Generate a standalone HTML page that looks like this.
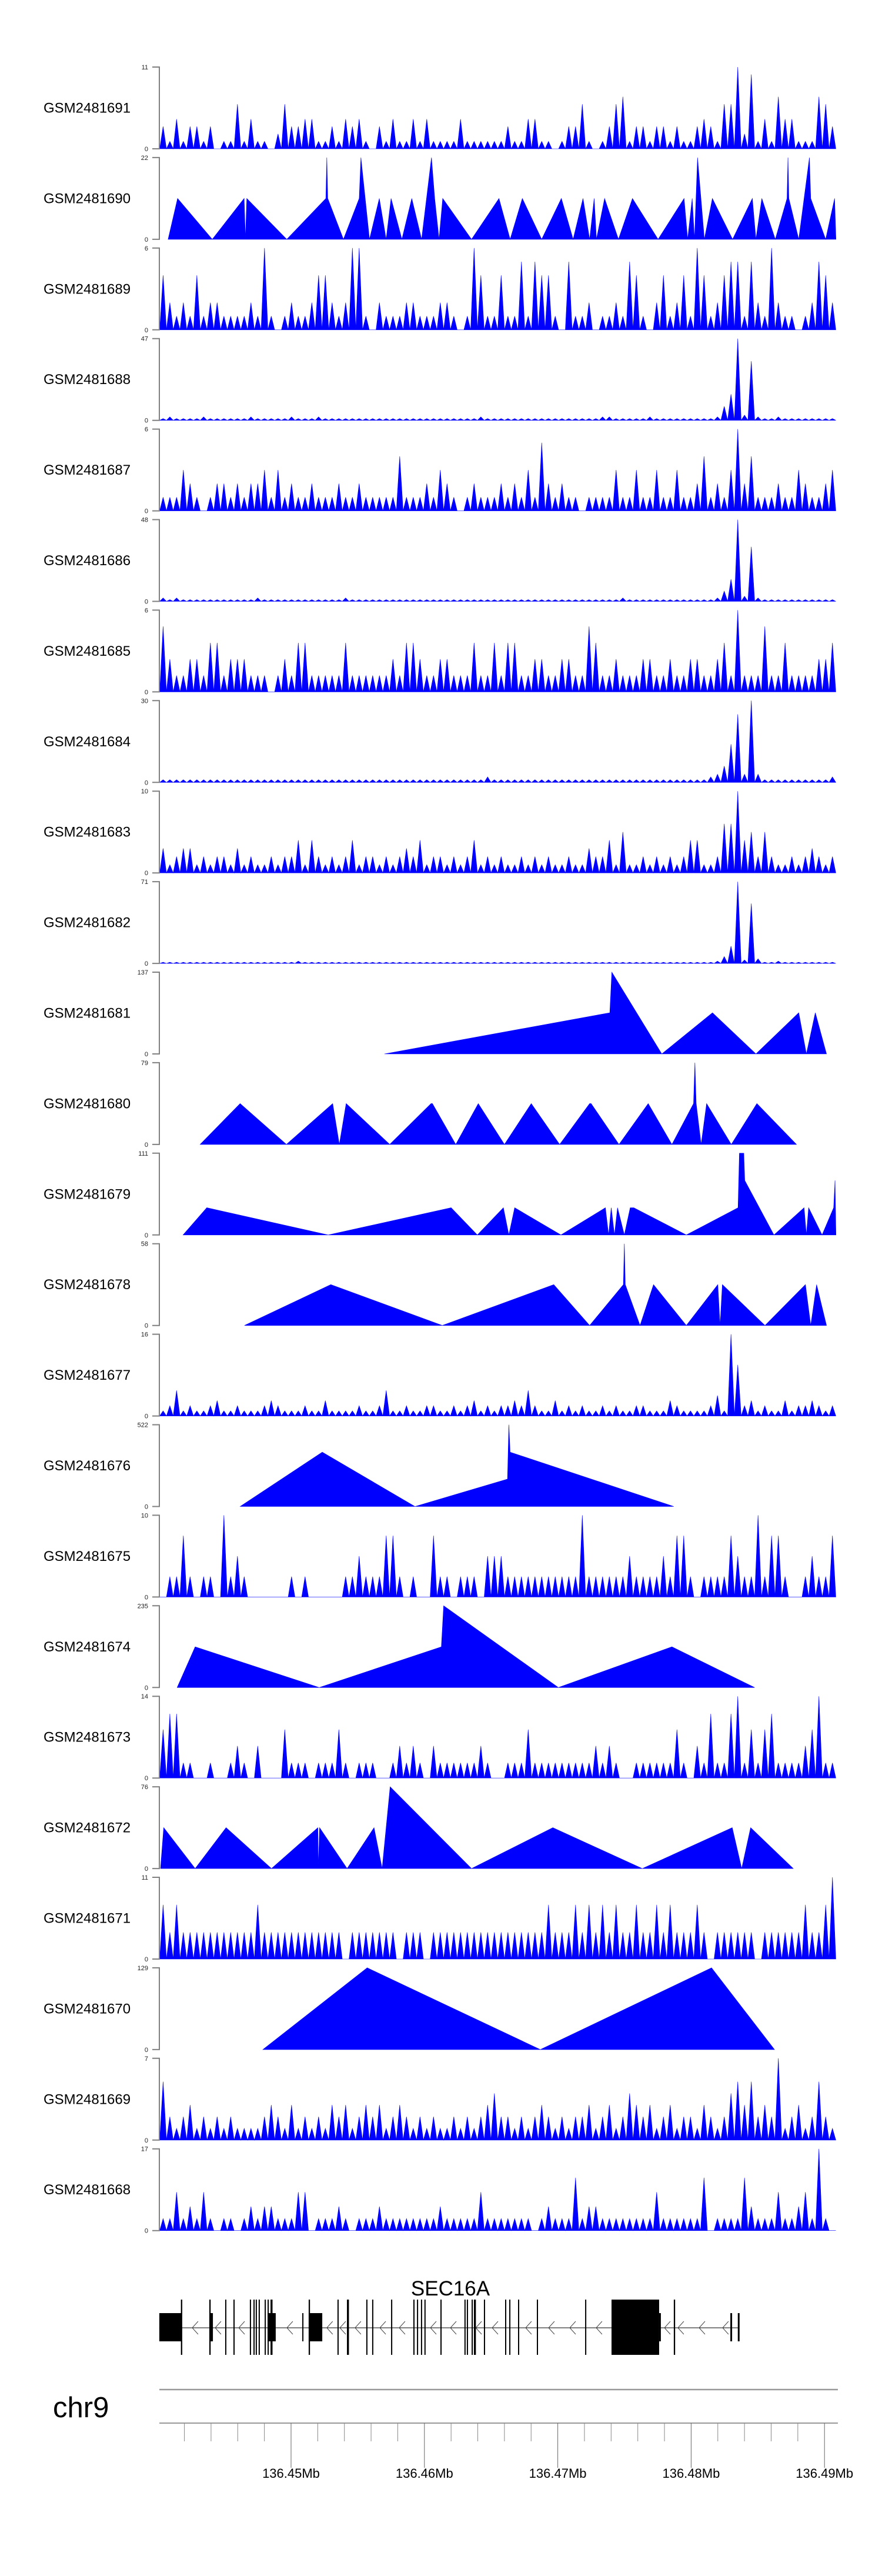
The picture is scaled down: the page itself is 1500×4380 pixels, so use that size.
<!DOCTYPE html>
<html><head><meta charset="utf-8"><title>SEC16A coverage tracks</title>
<style>
html,body{margin:0;padding:0;background:#fff;}
svg{display:block;font-family:"Liberation Sans",Arial,sans-serif;}
</style></head>
<body>
<svg id="chart" width="1500" height="4380" viewBox="0 0 1500 4380" xmlns="http://www.w3.org/2000/svg">
<rect width="1500" height="4380" fill="#fff"/>
<g id="tracks"></g>
<g id="gene"></g>
<g id="axis"></g>
</svg>
<script>
// ---------- data (kb offsets from 136.44 Mb) ----------
const sampleNames = ["GSM2481691","GSM2481690","GSM2481689","GSM2481688","GSM2481687","GSM2481686","GSM2481685","GSM2481684","GSM2481683","GSM2481682","GSM2481681","GSM2481680","GSM2481679","GSM2481678","GSM2481677","GSM2481676","GSM2481675","GSM2481674","GSM2481673","GSM2481672","GSM2481671","GSM2481670","GSM2481669","GSM2481668"];
const sampleMax = [11,22,6,47,6,48,6,30,10,71,137,79,111,58,16,522,10,235,14,76,11,129,7,17];

// dense binned coverage (100 bins)
const cov1691 = [3,1,4,1,3,3,1,3,0,1,1,6,1,4,1,1,0,2,6,3,3,4,4,1,1,3,1,4,3,4,1,0,3,1,4,1,1,4,1,4,1,1,1,1,4,1,1,1,1,1,1,3,1,1,4,4,1,1,0,1,3,3,6,1,0,1,3,6,7,1,3,3,1,3,3,1,3,1,1,3,4,3,1,6,6,11,2,10,1,4,1,7,4,4,1,1,1,7,6,3];
const cov1689 = [4,2,1,2,1,4,1,2,2,1,1,1,1,2,1,6,1,0,1,2,1,1,2,4,4,2,1,2,6,6,1,0,2,1,1,1,2,2,1,1,1,2,2,1,0,1,6,4,1,1,4,1,1,5,1,5,4,4,1,0,5,1,1,2,0,1,1,2,1,5,4,1,0,2,4,1,2,4,1,6,4,1,2,4,5,5,1,5,2,1,6,2,1,1,0,1,2,5,4,2];
const cov1688 = [1,2,1,1,1,1,2,1,1,1,1,1,1,2,1,1,1,1,1,2,1,1,1,2,1,1,1,1,1,1,1,1,1,1,1,1,1,1,1,1,1,1,1,1,1,1,1,2,1,1,1,1,1,1,1,1,1,1,1,1,1,1,1,1,1,2,2,1,1,1,1,1,2,1,1,1,1,1,1,1,1,1,2,8,15,47,3,34,2,1,1,2,1,1,1,1,1,1,1,1];
const cov1687 = [1,1,1,3,2,1,0,1,2,2,1,2,1,2,2,3,1,3,1,2,1,1,2,1,1,1,2,1,1,2,1,1,1,1,1,4,1,1,1,2,1,3,2,1,0,1,2,1,1,1,2,1,2,1,3,1,5,2,1,2,1,1,0,1,1,1,1,3,1,1,3,1,1,3,1,1,3,1,1,2,4,1,2,1,3,6,2,4,1,1,1,2,1,1,3,2,1,1,2,3];
const cov1686 = [2,1,2,1,1,1,1,1,1,1,1,1,1,1,2,1,1,1,1,1,1,1,1,1,1,1,1,2,1,1,1,1,1,1,1,1,1,1,1,1,1,1,1,1,1,1,1,1,1,1,1,1,1,1,1,1,1,1,1,1,1,1,1,1,1,1,1,1,2,1,1,1,1,1,1,1,1,1,1,1,1,1,2,6,13,48,3,32,2,1,1,1,1,1,1,1,1,1,1,1];
const cov1685 = [4.8,2.4,1.2,1.2,2.4,2.4,1.2,3.6,3.6,1.2,2.4,2.4,2.4,1.2,1.2,1.2,0,1.2,2.4,1.2,3.6,3.6,1.2,1.2,1.2,1.2,1.2,3.6,1.2,1.2,1.2,1.2,1.2,1.2,2.4,1.2,3.6,3.6,2.4,1.2,1.2,2.4,2.4,1.2,1.2,1.2,3.6,1.2,1.2,3.6,1.2,3.6,3.6,1.2,1.2,2.4,2.4,1.2,1.2,2.4,2.4,1.2,1.2,4.8,3.6,1.2,1.2,2.4,1.2,1.2,1.2,2.4,2.4,1.2,1.2,2.4,1.2,1.2,2.4,2.4,1.2,1.2,2.4,3.6,1.2,6,1.2,1.2,1.2,4.8,1.2,1.2,3.6,1.2,1.2,1.2,1.2,2.4,2.4,3.6];
const cov1684 = [1,1,1,1,1,1,1,1,1,1,1,1,1,1,1,1,1,1,1,1,1,1,1,1,1,1,1,1,1,1,1,1,1,1,1,1,1,1,1,1,1,1,1,1,1,1,1,1,2,1,1,1,1,1,1,1,1,1,1,1,1,1,1,1,1,1,1,1,1,1,1,1,1,1,1,1,1,1,1,1,1,2,3,6,14,25,3,30,3,1,1,1,1,1,1,1,1,1,1,2];
const cov1683 = [3,1,2,3,3,1,2,1,2,2,1,3,1,2,1,1,2,1,2,2,4,1,4,2,1,2,1,2,4,1,2,2,1,2,1,2,3,2,4,1,2,2,1,2,1,2,4,1,2,1,2,1,1,2,1,2,1,2,1,1,2,1,1,3,2,2,4,1,5,1,1,2,1,2,1,2,1,2,4,4,1,1,2,6,6,10,4,5,2,5,2,1,1,2,1,2,3,2,1,2];
const cov1682 = [1,1,1,1,1,1,1,1,1,1,1,1,1,1,1,1,1,1,1,1,2,1,1,1,1,1,1,1,1,1,1,1,1,1,1,1,1,1,1,1,1,1,1,1,1,1,1,1,1,1,1,1,1,1,1,1,1,1,1,1,1,1,1,1,1,1,1,1,1,1,1,1,1,1,1,1,1,1,1,1,1,1,2,6,15,71,3,52,4,1,1,2,1,1,1,1,1,1,1,1];
const cov1677 = [1,2,5,1,2,1,1,2,3,1,1,2,1,1,1,2,3,2,1,1,1,2,1,1,3,1,1,1,1,2,1,1,2,5,1,1,2,1,1,2,2,1,1,2,1,2,3,1,2,1,2,2,3,2,5,2,1,1,3,1,2,1,2,1,1,2,1,2,1,1,2,2,1,1,1,3,2,1,1,1,1,2,4,1,16,10,2,3,1,2,1,1,3,1,2,2,3,2,1,2];
const cov1675 = [0,2.5,2.5,7.5,2.5,0,2.5,2.5,0,10,2.5,5,2.5,0,0,0,0,0,0,2.5,0,2.5,0,0,0,0,0,2.5,2.5,5,2.5,2.5,2.5,7.5,7.5,2.5,0,2.5,0,0,7.5,2.5,2.5,0,2.5,2.5,2.5,0,5,5,5,2.5,2.5,2.5,2.5,2.5,2.5,2.5,2.5,2.5,2.5,2.5,10,2.5,2.5,2.5,2.5,2.5,2.5,5,2.5,2.5,2.5,2.5,5,2.5,7.5,7.5,2.5,0,2.5,2.5,2.5,2.5,7.5,5,2.5,2.5,10,2.5,7.5,7.5,2.5,0,0,2.5,5,2.5,2.5,7.5];
const cov1673 = [8.3,11,11,2.6,2.6,0,0,2.6,0,0,2.6,5.5,2.6,0,5.5,0,0,0,8.3,2.6,2.6,2.6,0,2.6,2.6,2.6,8.3,2.6,0,2.6,2.6,2.6,0,0,2.6,5.5,2.6,5.5,2.6,0,5.5,2.6,2.6,2.6,2.6,2.6,2.6,5.5,2.6,0,0,2.6,2.6,2.6,8.3,2.6,2.6,2.6,2.6,2.6,2.6,2.6,2.6,2.6,5.5,2.6,5.5,2.6,0,0,2.6,2.6,2.6,2.6,2.6,2.6,8.3,2.6,0,5.5,2.6,11,2.6,2.6,11,14,2.6,8.3,2.6,8.3,11,2.6,2.6,2.6,2.6,5.5,8.3,14,2.6,2.6];
const cov1671 = [7.3,3.6,7.3,3.6,3.6,3.6,3.6,3.6,3.6,3.6,3.6,3.6,3.6,3.6,7.3,3.6,3.6,3.6,3.6,3.6,3.6,3.6,3.6,3.6,3.6,3.6,3.6,0,3.6,3.6,3.6,3.6,3.6,3.6,3.6,0,3.6,3.6,3.6,0,3.6,3.6,3.6,3.6,3.6,3.6,3.6,3.6,3.6,3.6,3.6,3.6,3.6,3.6,3.6,3.6,3.6,7.3,3.6,3.6,3.6,7.3,3.6,7.3,3.6,7.3,3.6,7.3,3.6,3.6,7.3,3.6,3.6,7.3,3.6,7.3,3.6,3.6,3.6,7.3,3.6,0,3.6,3.6,3.6,3.6,3.6,3.6,0,3.6,3.6,3.6,3.6,3.6,3.6,7.3,3.6,3.6,7.3,11];
const cov1669 = [5,2,1,2,3,1,2,1,2,1,2,1,1,1,1,2,3,2,1,3,1,2,1,2,1,3,2,3,1,2,3,2,3,1,2,3,2,1,2,1,2,1,1,2,1,2,1,2,3,4,2,2,1,2,1,2,3,2,1,2,1,2,2,3,1,2,3,1,2,4,3,2,3,1,2,3,1,2,2,1,3,2,1,2,4,5,3,5,2,3,2,7,1,2,3,1,2,5,2,1];
const cov1668 = [2.5,2.5,8,2.5,5,2.5,8,2.5,0,2.5,2.5,0,2.5,5,2.5,5,5,2.5,2.5,2.5,8,8,0,2.5,2.5,2.5,5,2.5,0,2.5,2.5,2.5,5,2.5,2.5,2.5,2.5,2.5,2.5,2.5,2.5,5,2.5,2.5,2.5,2.5,2.5,8,2.5,2.5,2.5,2.5,2.5,2.5,2.5,0,2.5,5,2.5,2.5,2.5,11,2.5,5,5,2.5,2.5,2.5,2.5,2.5,2.5,2.5,2.5,8,2.5,2.5,2.5,2.5,2.5,2.5,11,0,2.5,2.5,2.5,2.5,11,5,2.5,2.5,2.5,8,2.5,2.5,5,8,2.5,17,2.5,0];

// sparse tracks: positions (kb) and values
const pos1690 = [0.78,1.49,4.09,6.48,6.58,6.68,9.68,12.61,12.68,12.75,13.93,15.11,15.24,15.88,16.62,17.13,17.5,18.31,19.05,19.79,20.53,20.77,21.1,21.37,23.53,25.59,26.43,27.34,28.79,30.27,31.15,31.89,32.39,32.73,32.9,33.51,34.55,35.6,37.52,39.47,39.74,40.08,40.25,40.48,40.99,41.59,43.11,44.59,44.86,45.3,46.31,47.19,47.26,47.33,48.07,48.87,48.97,50.09,50.76,50.86];
const val1690 = [0,11,0,11,0,11,0,11,22,11,0,11,22,0,11,0,11,0,11,0,22,11,0,11,0,11,0,11,0,11,0,11,0,11,0,11,0,11,0,11,0,11,0,22,0,11,0,11,0,11,0,11,22,11,0,22,11,0,11,0];
const pos1681 = [17.0,33.9,34.05,37.8,41.6,44.86,48.07,48.64,49.31,50.15];
const val1681 = [0,69,137,0,69,0,69,0,69,0];
const pos1680 = [3.18,6.18,9.65,13.12,13.62,14.13,17.4,20.5,20.6,22.35,24.04,26.0,28.01,30.14,32.39,32.5,34.59,36.78,38.56,40.18,40.28,40.38,40.75,41.16,43.01,44.93,47.9];
const val1680 = [0,39.5,0,39.5,0,39.5,0,39.5,39.5,0,39.5,0,39.5,0,39.5,39.5,0,39.5,0,39.5,79,39.5,0,39.5,0,39.5,0];
const pos1679 = [1.9,3.68,12.78,22.0,23.97,25.92,26.33,26.77,30.24,33.57,33.81,34.01,34.25,34.48,34.99,35.43,35.7,39.64,43.52,43.62,43.95,44.02,46.21,48.47,48.64,48.81,49.82,50.69,50.79,50.86];
const val1679 = [0,37,0,37,0,37,0,37,0,37,0,37,0,37,0,37,37,0,37,111,111,74,0,37,0,37,0,37,74,0];
const pos1678 = [6.51,12.98,21.34,29.7,32.39,34.92,34.99,35.06,36.17,37.18,39.64,42.0,42.17,42.34,45.54,48.57,48.97,49.41,50.15];
const val1678 = [0,29,0,29,0,29,58,29,0,29,0,29,0,29,0,29,0,29,0];
const pos1676 = [6.18,12.34,19.29,26.23,26.33,26.43,38.7];
const val1676 = [0,347,0,175,522,347,0];
const pos1674 = [1.46,2.81,12.11,21.27,21.44,30.04,38.56,44.76];
const val1674 = [0,117,0,117,235,0,117,0];
const pos1672 = [0.21,0.45,2.81,5.13,8.53,12.01,12.04,12.14,14.2,16.22,16.83,17.43,23.53,29.63,36.34,43.08,43.79,44.46,47.66];
const val1672 = [0,38,0,38,0,38,0,38,0,38,0,76,0,38,0,38,0,38,0];
const pos1670 = [7.89,15.71,28.69,41.53,46.25];
const val1670 = [0,129,0,129,0];

// gene model (kb)
const exonTall = [1.74,3.87,5.06,5.68,6.91,7.18,7.35,7.57,8.02,8.24,8.46,11.32,13.48,14.19,15.64,16.08,17.5,19.17,19.44,19.74,20.0,21.2,23.0,23.18,23.54,23.71,24.46,26.05,26.36,27.02,28.43,32.05,38.7];
const exonTallWidth = [0.1,0.1,0.08,0.08,0.08,0.08,0.08,0.08,0.08,0.08,0.15,0.1,0.08,0.15,0.08,0.08,0.08,0.08,0.08,0.08,0.08,0.08,0.08,0.08,0.08,0.15,0.08,0.08,0.08,0.08,0.08,0.08,0.1];
const utrStart = [0.12,3.87,8.24,10.84,11.32,37.6];
const utrEnd = [1.8,4.14,8.85,10.92,12.34,37.73];
const cdsBigStart = 34.03, cdsBigEnd = 37.6;
const lastExons = [42.94,43.5];
const chevronPos = [2.81,4.53,6.3,9.91,12.9,13.88,15.02,16.88,18.33,20.67,22.17,24.07,25.3,27.81,29.53,31.12,33.1,38.22,39.23,40.82,42.58];
const axisMajorKb = [10,20,30,40,50];
const axisMajorLabels = ["136.45Mb","136.46Mb","136.47Mb","136.48Mb","136.49Mb"];

// ---------- drawing ----------
const NS = "http://www.w3.org/2000/svg";
function mk(tag, attrs, parent){const e=document.createElementNS(NS,tag);for(const k in attrs)e.setAttribute(k,attrs[k]);parent.appendChild(e);return e;}
const X0 = 495, PX_PER_KB = 22.68;
function xScale(kb){return X0 + (kb-10)*PX_PER_KB;}
const TRACK_TOP = 114, TRACK_PITCH = 153.9, TRACK_H = 139, AXIS_X = 271;
const BIN_START = 0.15, BIN_W = 0.507;

const dense = {GSM2481691:cov1691,GSM2481689:cov1689,GSM2481688:cov1688,GSM2481687:cov1687,GSM2481686:cov1686,GSM2481685:cov1685,GSM2481684:cov1684,GSM2481683:cov1683,GSM2481682:cov1682,GSM2481677:cov1677,GSM2481675:cov1675,GSM2481673:cov1673,GSM2481671:cov1671,GSM2481669:cov1669,GSM2481668:cov1668};
const sparse = {GSM2481690:[pos1690,val1690],GSM2481681:[pos1681,val1681],GSM2481680:[pos1680,val1680],GSM2481679:[pos1679,val1679],GSM2481678:[pos1678,val1678],GSM2481676:[pos1676,val1676],GSM2481674:[pos1674,val1674],GSM2481672:[pos1672,val1672],GSM2481670:[pos1670,val1670]};

const tracksG = document.getElementById('tracks');
sampleNames.forEach((name,i)=>{
  const top = TRACK_TOP + i*TRACK_PITCH, bot = top + TRACK_H, max = sampleMax[i];
  const y = v => bot - v/max*TRACK_H;
  const g = mk('g',{},tracksG);
  
  
  const lab = mk('text',{x:74,y:top+TRACK_H/2+8,'font-size':24,fill:'#000'},g);
  lab.textContent = name;
  
  
  let d = '';
  if (dense[name]) {
    const vals = dense[name];
    d = 'M'+xScale(BIN_START).toFixed(1)+','+bot;
    vals.forEach((v,k)=>{
      const c = BIN_START + (k+0.5)*BIN_W, e = BIN_START + (k+1)*BIN_W;
      d += 'L'+xScale(c).toFixed(1)+','+y(v).toFixed(1)+'L'+xScale(e).toFixed(1)+','+bot;
    });
    d += 'Z';
  } else {
    const [ps,vs] = sparse[name];
    d = 'M'+xScale(ps[0]).toFixed(1)+','+bot;
    ps.forEach((p,k)=>{ d += 'L'+xScale(p).toFixed(1)+','+y(vs[k]).toFixed(1); });
    d += 'L'+xScale(ps[ps.length-1]).toFixed(1)+','+bot+'Z';
  }
  const area = mk('path',{d:d,fill:'#0000ff',stroke:'#0000ff','stroke-width':0.6,'stroke-linejoin':'miter'},g);
  
  
  const ax = mk('path',{d:`M259,${top}H${AXIS_X}V${bot}H259`,fill:'none',stroke:'#808080','stroke-width':2},g);
  
  
  const tmax = mk('text',{x:252,y:top+4,'font-size':11,'text-anchor':'end',fill:'#222'},g);
  tmax.textContent = max;
  
  
  const t0 = mk('text',{x:252,y:bot+4,'font-size':11,'text-anchor':'end',fill:'#222'},g);
  t0.textContent = '0';
  
  
});

// gene track
const geneG = document.getElementById('gene');
const GY = 3958, TALL0 = 3910, TALL1 = 4004, SH0 = 3933, SH1 = 3981;
const intron = mk('line',{x1:xScale(0.12),x2:xScale(43.6),y1:GY,y2:GY,stroke:'#000','stroke-width':1},geneG);


chevronPos.forEach(p=>{
  const cx = xScale(p);
  const c = mk('path',{d:`M${cx+5},${GY-11}L${cx-5},${GY}L${cx+5},${GY+11}`,fill:'none',stroke:'#444','stroke-width':1},geneG);
  
  
});
utrStart.forEach((s,k)=>{
  const r = mk('rect',{x:xScale(s),y:SH0,width:Math.max(2,xScale(utrEnd[k])-xScale(s)),height:SH1-SH0,fill:'#000'},geneG);
  
  
});
exonTall.forEach((s,k)=>{
  const r = mk('rect',{x:xScale(s),y:TALL0,width:Math.max(2,exonTallWidth[k]*PX_PER_KB),height:TALL1-TALL0,fill:'#000'},geneG);
  
  
});
const big = mk('rect',{x:xScale(cdsBigStart),y:TALL0,width:xScale(cdsBigEnd)-xScale(cdsBigStart),height:TALL1-TALL0,fill:'#000'},geneG);


lastExons.forEach(s=>{
  const r = mk('rect',{x:xScale(s),y:SH0,width:3,height:SH1-SH0,fill:'#000'},geneG);
  
  
});
const gname = mk('text',{x:766,y:3903,'font-size':35,'text-anchor':'middle',fill:'#000'},geneG);
gname.textContent = 'SEC16A';



// axis
const axisG = document.getElementById('axis');
const chrLine = mk('line',{x1:271,x2:1425,y1:4063,y2:4063,stroke:'#999','stroke-width':2.5},axisG);


const chr = mk('text',{x:90,y:4110,'font-size':49,fill:'#000'},axisG);
chr.textContent = 'chr9';


const axl = mk('line',{x1:271,x2:1425,y1:4120,y2:4120,stroke:'#999','stroke-width':2},axisG);


for (let kb = 2; kb <= 50; kb += 2) {
  if (kb % 10 === 0) continue;
  const t = mk('line',{x1:xScale(kb),x2:xScale(kb),y1:4120,y2:4151,stroke:'#888','stroke-width':1},axisG);
  
  
}
axisMajorKb.forEach((kb,k)=>{
  const x = xScale(kb);
  const t = mk('line',{x1:x,x2:x,y1:4120,y2:4196,stroke:'#666','stroke-width':1},axisG);
  
  
  const l = mk('text',{x:x,y:4213,'font-size':22,'text-anchor':'middle',fill:'#000'},axisG);
  l.textContent = axisMajorLabels[k];
  
  
});
</script>
</body></html>
